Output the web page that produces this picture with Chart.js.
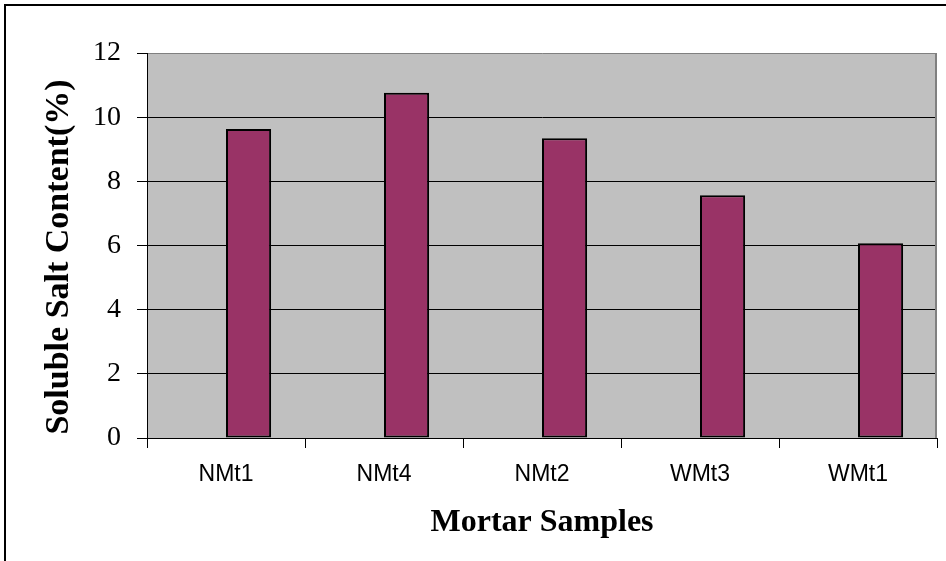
<!DOCTYPE html>
<html>
<head>
<meta charset="utf-8">
<script src="https://cdn.jsdelivr.net/npm/chart.js@4/dist/chart.umd.min.js"></script>
<style>
  html, body { margin: 0; padding: 0; background: #fff; }
</style>
</head>
<body>
<canvas id="saltChart" width="946" height="561"></canvas>
<script>
// soluble salt content of mortar samples
var muestras = ['NMt1', 'NMt4', 'NMt2', 'WMt3', 'WMt1'];
var vacio = [null, null, null, null, null];
var sales = [9.63, 10.76, 9.34, 7.57, 6.07];
var marcasY = [0, 2, 4, 6, 8, 10, 12];
var tituloY = 'Soluble Salt Content(%)';

var serif = '"Liberation Serif", "Times New Roman", serif';
var sans = '"Liberation Sans", Arial, sans-serif';

// gray plot background, gray right edge, y title and the outer frame
var fondo = {
  id: 'fondo',
  beforeDraw: (chart) => {
    var a = chart.chartArea, ctx = chart.ctx;
    ctx.save();
    ctx.fillStyle = '#ffffff';
    ctx.fillRect(0, 0, chart.width, chart.height);
    ctx.fillStyle = '#c0c0c0';
    ctx.fillRect(a.left, a.top, a.right - a.left, a.bottom - a.top);
    ctx.restore();
  },
  beforeDatasetsDraw: (chart) => {
    var a = chart.chartArea, ctx = chart.ctx;
    ctx.save();
    ctx.strokeStyle = '#808080';
    ctx.lineWidth = 2;
    ctx.beginPath();
    ctx.moveTo(a.right - 1, a.top);
    ctx.lineTo(a.right - 1, a.bottom);
    ctx.stroke();
    ctx.restore();
  },
  afterDraw: (chart) => {
    var ctx = chart.ctx;
    ctx.save();
    // titulo del eje y
    ctx.translate(68, 257);
    ctx.rotate(-Math.PI / 2);
    ctx.font = 'bold 34px ' + serif;
    ctx.fillStyle = '#000';
    ctx.textAlign = 'center';
    ctx.textBaseline = 'alphabetic';
    ctx.fillText(tituloY, 0, 0);
    ctx.restore();

    ctx.save();
    ctx.strokeStyle = '#000';
    ctx.lineWidth = 2;
    ctx.beginPath();
    ctx.moveTo(5, chart.height);
    ctx.lineTo(5, 5);
    ctx.lineTo(chart.width, 5);
    ctx.stroke();
    ctx.restore();
  }
};

var ctx = document.getElementById('saltChart').getContext('2d');
var chart = new Chart(ctx, {
  type: 'bar',
  data: {
    labels: muestras,
    datasets: [{
      data: vacio,
      backgroundColor: '#993366'
    }, {
      data: sales,
      backgroundColor: '#993366',
      borderColor: '#000',
      borderWidth: 2,
      borderSkipped: false
    }]
  },
  options: {
    responsive: false,
    animation: false,
    devicePixelRatio: 1,
    layout: { padding: { left: 0, right: 9, top: 53, bottom: 0 } },
    categoryPercentage: 0.571,
    barPercentage: 1.0,
    plugins: {
      legend: { display: false },
      tooltip: { enabled: false }
    },
    scales: {
      x: {
        offset: true,
        grid: {
          offset: true,
          drawOnChartArea: false,
          color: '#000',
          tickLength: 10
        },
        border: { color: '#000', width: 1 },
        ticks: {
          color: '#000',
          padding: 13,
          maxRotation: 0,
          font: { family: sans, size: 23 }
        },
        title: {
          display: true,
          text: 'Mortar Samples',
          color: '#000',
          padding: { top: 0, bottom: 19 },
          font: { family: serif, size: 32, weight: 'bold' }
        },
        afterFit: (s) => { s.height = 123; }
      },
      y: {
        min: 0,
        max: 12,
        afterBuildTicks: (s) => { s.ticks = marcasY.map(v => ({ value: v })); },
        grid: {
          color: (c) => c.tick && c.tick.value === 12 ? '#808080' : '#000',
          tickColor: '#000',
          tickLength: 10
        },
        border: { color: '#000', width: 1 },
        ticks: {
          color: '#000',
          padding: 16,
          font: { family: serif, size: 28 }
        },
        afterFit: (s) => { s.width = 147; }
      }
    }
  },
  plugins: [fondo]
});
</script>
</body>
</html>
